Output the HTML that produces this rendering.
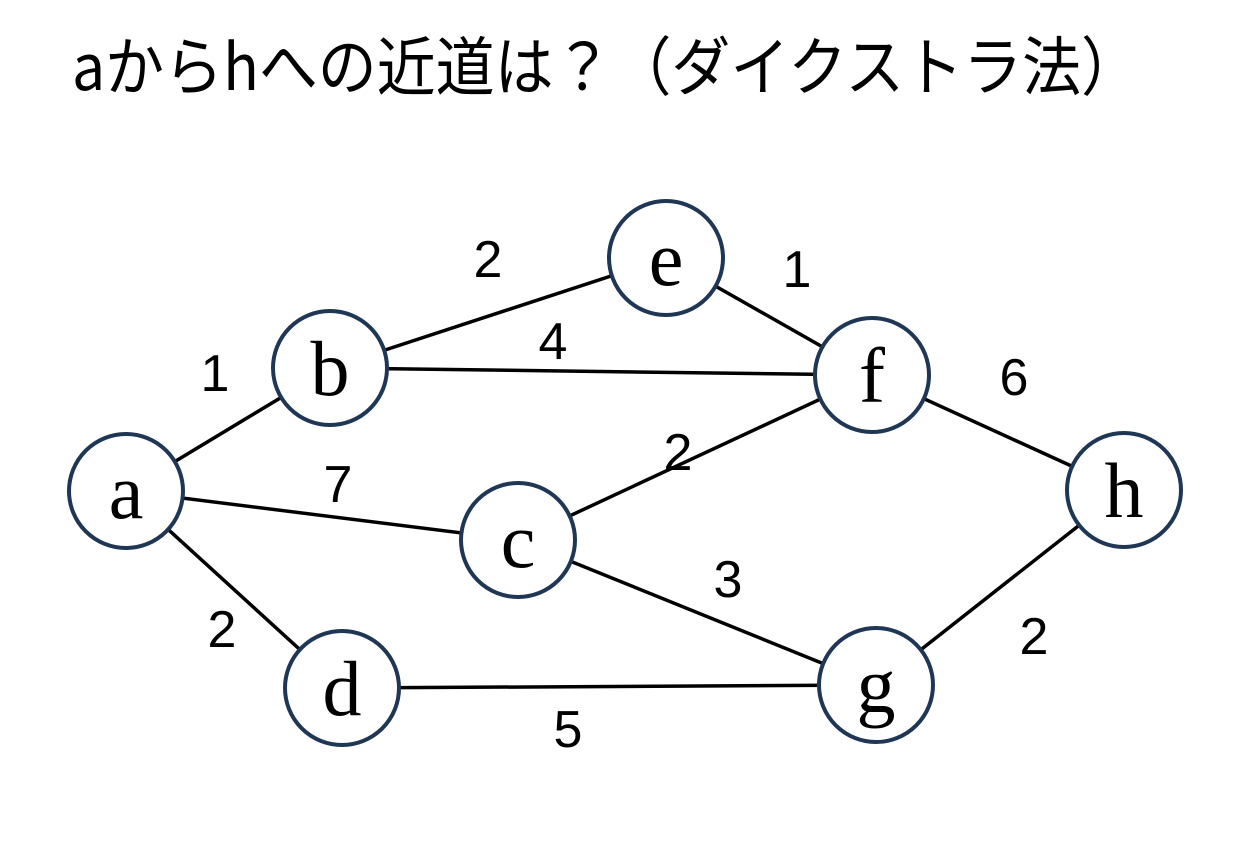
<!DOCTYPE html>
<html><head><meta charset="utf-8"><style>
body{margin:0;background:#fff;width:1257px;height:858px;overflow:hidden}
</style></head><body>
<svg width="1257" height="858" xmlns="http://www.w3.org/2000/svg">
<text x="72" y="90" font-family="'Noto Sans CJK JP',sans-serif" font-size="64" textLength="1068" lengthAdjust="spacingAndGlyphs">aからhへの近道は？（ダイクストラ法）</text>
<g stroke="#000" stroke-width="3.5">
<line x1="126" y1="491" x2="330" y2="368"/>
<line x1="126" y1="491" x2="518" y2="540"/>
<line x1="126" y1="491" x2="342" y2="688"/>
<line x1="330" y1="368" x2="666" y2="258"/>
<line x1="330" y1="368" x2="872" y2="375"/>
<line x1="666" y1="258" x2="872" y2="375"/>
<line x1="518" y1="540" x2="872" y2="375"/>
<line x1="518" y1="540" x2="876" y2="685"/>
<line x1="342" y1="688" x2="876" y2="685"/>
<line x1="872" y1="375" x2="1124" y2="490"/>
<line x1="876" y1="685" x2="1124" y2="490"/>
</g>
<g fill="#fff" stroke="#1f3654" stroke-width="4">
<circle cx="126" cy="491" r="57"/>
<circle cx="330" cy="368" r="57"/>
<circle cx="666" cy="258" r="57"/>
<circle cx="872" cy="375" r="57"/>
<circle cx="518" cy="540" r="57"/>
<circle cx="342" cy="688" r="57"/>
<circle cx="876" cy="685" r="57"/>
<circle cx="1124" cy="490" r="57"/>
</g>
<g font-family="'Liberation Serif',serif" font-size="78" text-anchor="middle">
<text x="126" y="518">a</text>
<text x="330" y="395">b</text>
<text x="666" y="285">e</text>
<text x="872" y="402">f</text>
<text x="518" y="567">c</text>
<text x="342" y="715">d</text>
<text x="876" y="712">g</text>
<text x="1124" y="517">h</text>
</g>
<g font-family="'Liberation Sans',sans-serif" font-size="52" text-anchor="middle">
<text x="215" y="391">1</text>
<text x="338" y="502">7</text>
<text x="222" y="647">2</text>
<text x="488" y="277">2</text>
<text x="553" y="359">4</text>
<text x="797" y="287">1</text>
<text x="678" y="470">2</text>
<text x="728" y="597">3</text>
<text x="568" y="747">5</text>
<text x="1014" y="395">6</text>
<text x="1034" y="654">2</text>
</g>
</svg>
</body></html>
